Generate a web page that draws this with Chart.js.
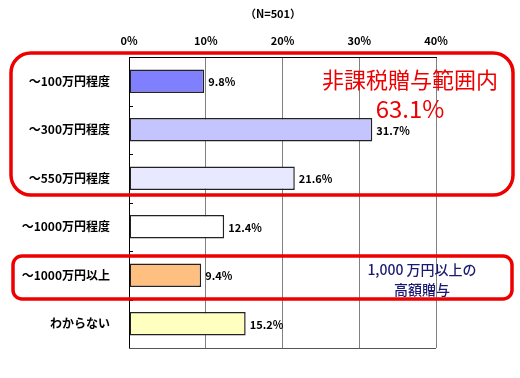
<!DOCTYPE html>
<html>
<head>
<meta charset="utf-8">
<script src="https://cdn.jsdelivr.net/npm/chart.js@4/dist/chart.umd.min.js"></script>
<style>
  body { margin: 0; background: #fff; }
  canvas { display: block; }
</style>
</head>
<body>
<canvas id="grafico" width="520" height="378"></canvas>
<script>
// datos del gráfico
const categorias = ["〜100万円程度", "〜300万円程度", "〜550万円程度", "〜1000万円程度", "〜1000万円以上", "わからない"];
const valores = [9.8, 31.7, 21.6, 12.4, 9.4, 15.2];
const colores = ["#8080ff", "#c4c4ff", "#e8e8ff", "#ffffff", "#ffbf80", "#ffffc0"];
const ticksX = [0, 10, 20, 30, 40];

const fuenteJP = "'Noto Sans CJK JP', 'Noto Sans', sans-serif";

function rectRedondo(ctx, x, y, w, h, r) {
  ctx.beginPath();
  ctx.moveTo(x + r, y);
  ctx.arcTo(x + w, y, x + w, y + h, r);
  ctx.arcTo(x + w, y + h, x, y + h, r);
  ctx.arcTo(x, y + h, x, y, r);
  ctx.arcTo(x, y, x + w, y, r);
  ctx.closePath();
}

// etiquetas, marcas y anotaciones
const extras = {
  id: "extras",
  afterDatasetsDraw(chart) {
    const ctx = chart.ctx;
    const area = chart.chartArea;
    const y = chart.scales.y;
    ctx.save();

    // marcas cortas entre categorías
    ctx.strokeStyle = "#000";
    ctx.lineWidth = 1;
    for (let i = 1; i < categorias.length; i++) {
      const py = Math.round((y.getPixelForValue(i - 1) + y.getPixelForValue(i)) / 2) + 0.5;
      ctx.beginPath();
      ctx.moveTo(area.left, py);
      ctx.lineTo(area.left + 4, py);
      ctx.stroke();
    }
    // borde inferior
    ctx.strokeStyle = "#555";
    ctx.beginPath();
    ctx.moveTo(area.left, area.bottom + 0.5);
    ctx.lineTo(area.right, area.bottom + 0.5);
    ctx.stroke();

    // valores
    const meta = chart.getDatasetMeta(0);
    ctx.fillStyle = "#000";
    ctx.font = "bold 11px " + fuenteJP;
    ctx.textAlign = "left";
    ctx.textBaseline = "middle";
    meta.data.forEach((bar, i) => {
      ctx.fillText(valores[i].toFixed(1) + "%", bar.x + 4, bar.y + 1);
    });

    // título
    ctx.textAlign = "center";
    ctx.font = "bold 11px " + fuenteJP;
    ctx.fillText("（N=501）", 273, 14);

    // recuadros rojos
    ctx.strokeStyle = "#ee0000";
    ctx.lineWidth = 3.5;
    rectRedondo(ctx, 11, 53, 502, 142, 20);
    ctx.stroke();
    rectRedondo(ctx, 13, 256, 499, 43, 9);
    ctx.stroke();

    // textos
    ctx.fillStyle = "#ee0000";
    ctx.font = "22px " + fuenteJP;
    ctx.fillText("非課税贈与範囲内", 410, 80);
    ctx.font = "24px " + fuenteJP;
    ctx.fillText("63.1%", 410, 109);

    ctx.fillStyle = "#1a1a70";
    ctx.font = "500 14px " + fuenteJP;
    ctx.fillText("1,000 万円以上の", 422, 270);
    ctx.fillText("高額贈与", 422, 290);
    ctx.restore();
  }
};

const ctx = document.getElementById("grafico").getContext("2d");
const chart = new Chart(ctx, {
  type: "bar",
  data: {
    labels: categorias,
    datasets: [{
      data: valores,
      backgroundColor: colores,
      borderColor: "#222",
      borderWidth: 1.5,
      borderSkipped: false,
      barPercentage: 0.48,
      categoryPercentage: 1.0
    }]
  },
  options: {
    indexAxis: "y",
    responsive: false,
    animation: false,
    layout: { padding: { left: 0, top: 0, right: 84, bottom: 30 } },
    plugins: {
      legend: { display: false },
      tooltip: { enabled: false }
    },
    scales: {
      x: {
        position: "top",
        min: 0,
        max: 40,
        afterBuildTicks: (scale) => { scale.ticks = ticksX.map(v => ({ value: v })); },
        afterFit: (scale) => { scale.height = 57; },
        grid: { color: "#808080", lineWidth: 1, drawTicks: false },
        border: { display: true, color: "#000", width: 1 },
        ticks: {
          padding: 10,
          color: "#000",
          font: { family: fuenteJP, size: 11, weight: "bold" },
          callback: (v) => v + "%"
        }
      },
      y: {
        afterFit: (scale) => { scale.width = 129; },
        grid: { display: false },
        border: { display: true, color: "#000", width: 1 },
        ticks: {
          padding: 11,
          color: "#000",
          font: { family: fuenteJP, size: 12, weight: "bold" }
        }
      }
    }
  },
  plugins: [extras]
});
</script>
</body>
</html>
